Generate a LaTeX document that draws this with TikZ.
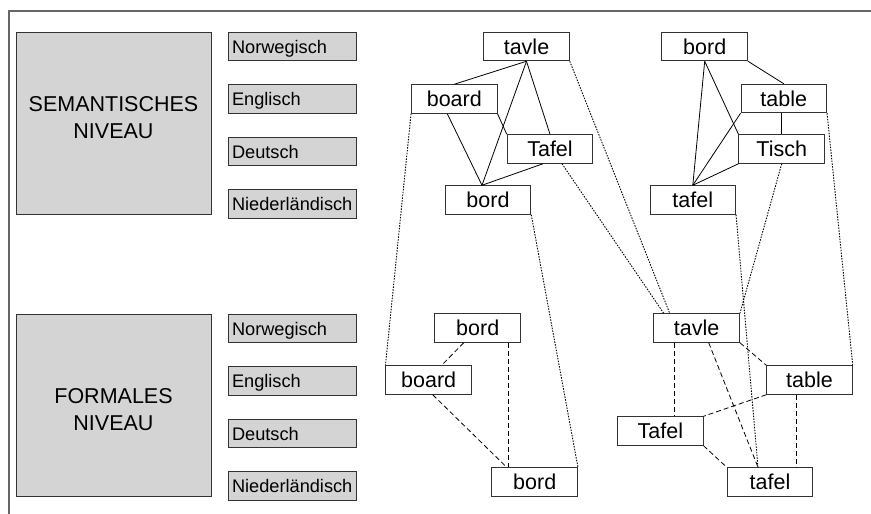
\documentclass[tikz,border=0pt]{standalone}
\usepackage{fontspec}
\setmainfont{Liberation Sans}
\usetikzlibrary{positioning}

\begin{document}
\begin{tikzpicture}[
  x=1pt,y=-1pt,
  node distance=23pt,
  level/.style={draw=black!80,fill=black!17,line width=1pt,minimum width=195pt,minimum height=182pt,inner sep=0pt},
  levtext/.style={align=center,font=\fontsize{21.5}{27}\selectfont},
  lang/.style={draw=black!80,fill=black!17,line width=1pt,text width=120pt,align=left,inner xsep=4pt,inner ysep=0pt,minimum height=28.5pt,font=\fontsize{18.2}{20}\selectfont,text height=13.1pt,text depth=0pt},
  word/.style={draw=black!80,fill=white,line width=1pt,minimum width=85.5pt,minimum height=28.5pt,inner sep=0pt,font=\fontsize{21.5}{24}\selectfont,text height=15.5pt,text depth=0pt},
  link/.style={line width=.8pt},
  trans/.style={line width=.9pt,dash pattern=on 1.5pt off 1.3pt},
  form/.style={line width=.8pt,dash pattern=on 5pt off 3pt}
]
  \useasboundingbox (0,0) rectangle (871,514);
  \draw[black!60,line width=2pt] (9,520) -- (9,11) -- (880,11);

  % levels
  \node[level] (semlevel) at (113.5,123) {};
  \node[levtext] at ([yshift=5pt]semlevel.center) {SEMANTISCHES\\NIVEAU};
  \node[level] (formlevel) at (113.5,405) {};
  \node[levtext] at ([yshift=-5pt]formlevel.center) {FORMALES\\NIVEAU};

  % languages
  \node[lang] (nosem) at (292,46.5) {Norwegisch};
  \node[lang,below=of nosem] (ensem) {Englisch};
  \node[lang,below=of ensem] (desem) {Deutsch};
  \node[lang,below=of desem] (nlsem) {Niederländisch};
  \node[lang] (noform) at (292,328.5) {Norwegisch};
  \node[lang,below=of noform] (enform) {Englisch};
  \node[lang,below=of enform] (deform) {Deutsch};
  \node[lang,below=of deform] (nlform) {Niederländisch};

  % semantic words
  \node[word] (tavlesem) at (526.5,46.5) {tavle};
  \node[word] (boardsem) at (454.3,99) {board};
  \node[word] (Tafelsem) at (550,149) {Tafel};
  \node[word] (bordsem) at (488,200) {bord};
  \node[word] (bordnosem) at (704.7,46.5) {bord};
  \node[word] (tablesem) at (783.8,98.5) {table};
  \node[word] (Tischsem) at (781.7,149) {Tisch};
  \node[word] (tafelsem) at (692.8,200) {tafel};

  % formal words
  \node[word] (bordform) at (477.7,328) {bord};
  \node[word] (boardform) at (428.7,380) {board};
  \node[word] (bordnlform) at (534.7,482) {bord};
  \node[word] (tavleform) at (696.7,328) {tavle};
  \node[word] (tableform) at (809.5,380) {table};
  \node[word] (Tafelform) at (660.3,431) {Tafel};
  \node[word] (tafelform) at (770,482) {tafel};

  % semantic links
  \coordinate (bordtop) at ([xshift=-6pt]bordsem.north);
  \draw[link] (tavlesem.south) -- (boardsem.north);
  \draw[link] (tavlesem.south) -- (bordtop);
  \draw[link] (tavlesem.south) -- (Tafelsem.north);
  \draw[link] ([xshift=-7pt]boardsem.south) -- (bordtop);
  \draw[link] (boardsem.south east) -- (Tafelsem.north west);
  \draw[link] ([xshift=-7pt]Tafelsem.south) -- (bordtop);
  \draw[link] (bordnosem.south) -- (tafelsem.north);
  \draw[link] (bordnosem.south) -- (Tischsem.north west);
  \draw[link] (bordnosem.south east) -- (tablesem.north);
  \draw[link] (tablesem.south west) -- (tafelsem.north);
  \draw[link] (Tischsem.north |- tablesem.south) -- (Tischsem.north);
  \draw[link] (Tischsem.south west) -- (tafelsem.north);

  % semantic to formal
  \draw[trans] (boardsem.south west) -- (boardform.north west);
  \draw[trans] (bordsem.south east) -- (bordnlform.north east);
  \draw[trans] ([xshift=12pt]Tafelsem.south) -- ([xshift=-33pt]tavleform.north);
  \draw[trans] (tavlesem.south east) -- ([xshift=-27pt]tavleform.north);
  \draw[trans] (tafelsem.south east) -- ([xshift=-12pt]tafelform.north);
  \draw[trans] (Tischsem.south) -- (tavleform.north east);
  \draw[trans] (tablesem.south east) -- (tableform.north east);

  % formal links
  \draw[form] ([xshift=-14pt]bordform.south) -- ([xshift=13pt]boardform.north);
  \draw[form] ([xshift=31pt]bordform.south) -- ([xshift=31pt]bordform.south |- bordnlform.north);
  \draw[form] ([xshift=4pt]boardform.south) -- ([xshift=-28pt]bordnlform.north);
  \draw[form] ([xshift=-22pt]tavleform.south) -- ([xshift=-22pt]tavleform.south |- Tafelform.north);
  \draw[form] ([xshift=12pt]tavleform.south) -- ([xshift=-12pt]tafelform.north);
  \draw[form] (tavleform.south east) -- (tableform.north west);
  \draw[form] (tableform.south west) -- (Tafelform.north east);
  \draw[form] ([xshift=-13.5pt]tableform.south) -- ([xshift=-13.5pt]tableform.south |- tafelform.north);
  \draw[form] (Tafelform.south east) -- (tafelform.north west);
\end{tikzpicture}
\end{document}
